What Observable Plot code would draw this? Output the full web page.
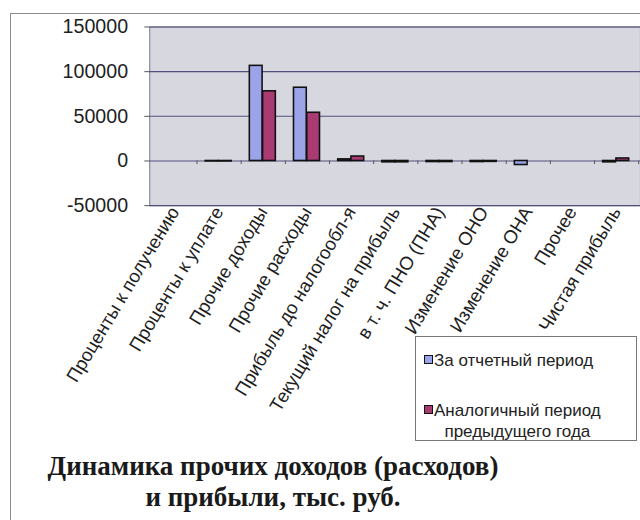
<!DOCTYPE html>
<html>
<head>
<meta charset="utf-8">
<script src="https://cdn.jsdelivr.net/npm/d3@7"></script>
<script src="https://cdn.jsdelivr.net/npm/@observablehq/plot@0.6"></script>
<style>
  body { margin:0; background:#fff; width:640px; height:520px; overflow:hidden; position:relative; font-family:"Liberation Sans", Arial, sans-serif; }
  #border { position:absolute; left:10px; top:13px; width:660px; height:540px; border-top:1.5px solid #8c8c8c; border-left:1.5px solid #8c8c8c; }
  #chart { position:absolute; left:0; top:0; width:640px; overflow:hidden; }
  #legend { position:absolute; left:415px; top:336px; width:222px; height:105px; box-sizing:border-box; border:1px solid #777; background:#fff; font-size:17px; color:#222; }
  .item { position:absolute; left:8px; display:flex; align-items:flex-start; }
  .sw { width:7px; height:7px; border:1.5px solid #111; margin-top:5px; margin-right:1px; }
  .txt { text-align:center; line-height:21px; }
  #title { position:absolute; left:0; top:451px; width:546px; text-align:center; font-family:"Liberation Serif","Times New Roman",serif; font-weight:bold; font-size:27px; line-height:31px; color:#1a1a1a; }
</style>
</head>
<body>
<div id="border"></div>
<div id="chart"></div>
<div id="legend"></div>
<div id="title"></div>
<script>
const categories = ["Проценты к получению","Проценты к уплате","Прочие доходы","Прочие расходы","Прибыль до налогообл-я","Текущий налог на прибыль","в т. ч. ПНО (ПНА)","Изменение ОНО","Изменение ОНА","Прочее","Чистая прибыль"];
const seriesNames = ["За отчетный период","Аналогичный период предыдущего года"];
const current  = [0, -500, 106500, 82000, 1800, -1500, -1200, -1200, -4500, 0, -1500];
const previous = [0, -500, 78000, 54000, 5000, -1500, -1200, -1000, 0, 0, 2800];
const yTicks = [-50000, 0, 50000, 100000, 150000];
const titleLines = ["Динамика прочих доходов (расходов)", "и прибыли, тыс. руб."];

const colors = ["#9ba4e8", "#a93a72"];

const curData = categories.map((c,i) => ({cat:c, v:current[i]}));
const prevData = categories.map((c,i) => ({cat:c, v:previous[i]}));

const chart = Plot.plot({
  width: 652, height: 450,
  marginLeft: 152, marginRight: 0, marginTop: 27, marginBottom: 241,
  style: { fontFamily: "'Liberation Sans', Arial, sans-serif", color: "#1e1e1e", background: "transparent", overflow: "visible" },
  x: { domain: categories, padding: 0 },
  y: { domain: [-50000, 150000] },
  marks: [
    Plot.frame({ fill: "#d7d7e0", stroke: "#8a8aa0", strokeWidth: 1.2 }),
    Plot.ruleY(yTicks, { stroke: "#50507a", strokeWidth: 1.1 }),
    Plot.ruleX(categories, { x: d => d, y1: 0, y2: -4000, dx: 22.7, stroke: "#555", strokeWidth: 1 }),
    Plot.axisY({ ticks: yTicks, tickFormat: d => String(d), tickSize: 5, tickPadding: 17, fontSize: 20, label: null, stroke: "#555" }),
    Plot.axisX({ tickRotate: -59, tickSize: 0, tickPadding: 3, fontSize: 19, label: null }),
    Plot.barY(curData, { x: "cat", y: "v", fill: colors[0], stroke: "#111", strokeWidth: 1.6, insetLeft: 9, insetRight: 23 }),
    Plot.barY(prevData, { x: "cat", y: "v", fill: colors[1], stroke: "#111", strokeWidth: 1.6, insetLeft: 22.5, insetRight: 9.5 })
  ]
});
document.getElementById("chart").appendChild(chart);

const legend = document.getElementById("legend");
legend.innerHTML =
  `<div class="item" style="top:13px"><div class="sw" style="background:${colors[0]}"></div><div class="txt">${seriesNames[0]}</div></div>` +
  `<div class="item" style="top:63px"><div class="sw" style="background:${colors[1]}"></div><div class="txt">Аналогичный период<br>предыдущего года</div></div>`;

document.getElementById("title").innerHTML = titleLines.join("<br>");
</script>
</body>
</html>
